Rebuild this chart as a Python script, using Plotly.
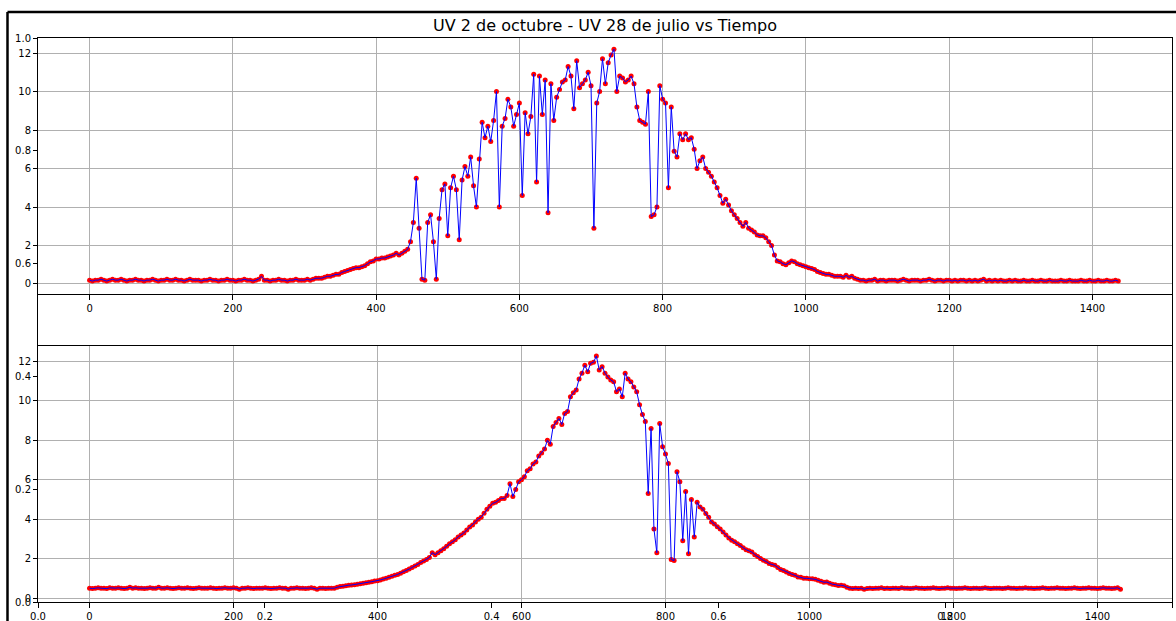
import plotly.graph_objects as go

# Readings sampled every 4 minutes over the day (minute of day)
minutos_octubre = list(range(0, 1440, 4))
minutos_julio = list(range(0, 1433, 4))

# UV index, 2 de octubre
uv_octubre = [
    0.2, 0.15, 0.2, 0.2, 0.25, 0.2, 0.15, 0.2, 0.25, 0.2,
    0.2, 0.25, 0.2, 0.15, 0.2, 0.2, 0.25, 0.2, 0.2, 0.15,
    0.2, 0.2, 0.25, 0.2, 0.15, 0.2, 0.2, 0.25, 0.2, 0.2,
    0.25, 0.2, 0.2, 0.15, 0.2, 0.25, 0.2, 0.2, 0.2, 0.15,
    0.2, 0.2, 0.25, 0.2, 0.2, 0.15, 0.2, 0.2, 0.25, 0.2,
    0.2, 0.15, 0.2, 0.2, 0.25, 0.2, 0.2, 0.15, 0.2, 0.25,
    0.4, 0.2, 0.2, 0.15, 0.2, 0.2, 0.25, 0.2, 0.2, 0.15,
    0.2, 0.2, 0.25, 0.2, 0.2, 0.2, 0.25, 0.2, 0.25, 0.3,
    0.3, 0.3, 0.35, 0.4, 0.4, 0.45, 0.5, 0.5, 0.6, 0.65,
    0.7, 0.75, 0.8, 0.85, 0.85, 0.9, 0.95, 1.05, 1.15, 1.2,
    1.3, 1.3, 1.35, 1.35, 1.4, 1.45, 1.5, 1.6, 1.5, 1.6,
    1.7, 1.8, 2.2, 3.2, 5.5, 2.9, 0.25, 0.2, 3.2, 3.6,
    2.2, 0.25, 3.4, 4.9, 5.2, 2.5, 5.0, 5.6, 4.9, 2.3,
    5.4, 6.1, 5.6, 6.6, 5.1, 4.0, 6.5, 8.4, 7.6, 8.2,
    7.4, 8.5, 10.0, 4.0, 8.2, 8.6, 9.6, 9.2, 8.2, 8.8,
    9.4, 4.6, 8.9, 7.8, 8.7, 10.9, 5.3, 10.8, 8.8, 10.6,
    3.7, 10.4, 8.5, 9.7, 10.1, 10.5, 10.6, 11.3, 10.8, 9.1,
    11.6, 10.2, 10.4, 10.6, 11.0, 10.3, 2.9, 9.4, 10.0, 11.7,
    10.4, 11.5, 11.9, 12.2, 10.0, 10.8, 10.7, 10.5, 10.6, 10.8,
    10.4, 9.2, 8.5, 8.4, 8.3, 10.0, 3.5, 3.6, 4.0, 10.3,
    9.6, 9.4, 5.0, 9.2, 6.9, 6.6, 7.8, 7.5, 7.8, 7.5,
    7.6, 7.0, 6.0, 6.4, 6.6, 6.0, 5.8, 5.6, 5.3, 5.0,
    4.6, 4.2, 4.4, 4.1, 3.8, 3.6, 3.4, 3.2, 3.0, 3.2,
    2.9, 2.8, 2.7, 2.55, 2.5, 2.5, 2.4, 2.2, 2.0, 1.5,
    1.2, 1.15, 1.05, 1.0, 1.1, 1.2, 1.15, 1.05, 1.0, 0.95,
    0.9, 0.85, 0.8, 0.75, 0.65, 0.6, 0.55, 0.5, 0.5, 0.45,
    0.4, 0.4, 0.4, 0.35, 0.45, 0.35, 0.4, 0.3, 0.25, 0.2,
    0.2, 0.15, 0.2, 0.2, 0.25, 0.15, 0.2, 0.2, 0.15, 0.2,
    0.2, 0.2, 0.15, 0.2, 0.25, 0.2, 0.15, 0.2, 0.2, 0.2,
    0.15, 0.2, 0.2, 0.25, 0.2, 0.15, 0.2, 0.2, 0.15, 0.2,
    0.2, 0.15, 0.2, 0.15, 0.2, 0.2, 0.15, 0.2, 0.15, 0.2,
    0.15, 0.2, 0.25, 0.15, 0.2, 0.15, 0.2, 0.15, 0.2, 0.15,
    0.15, 0.2, 0.15, 0.2, 0.15, 0.15, 0.2, 0.15, 0.15, 0.2,
    0.15, 0.15, 0.2, 0.15, 0.15, 0.2, 0.15, 0.15, 0.15, 0.2,
    0.15, 0.15, 0.2, 0.15, 0.15, 0.15, 0.2, 0.15, 0.15, 0.2,
    0.15, 0.15, 0.2, 0.15, 0.15, 0.2, 0.15, 0.15, 0.2, 0.15,
]

# UV index, 28 de julio
uv_julio = [
    0.5, 0.48, 0.5, 0.52, 0.5, 0.5, 0.48, 0.52, 0.5, 0.5,
    0.52, 0.5, 0.48, 0.5, 0.55, 0.5, 0.52, 0.5, 0.5, 0.48,
    0.5, 0.52, 0.5, 0.5, 0.55, 0.5, 0.5, 0.52, 0.5, 0.48,
    0.5, 0.52, 0.5, 0.5, 0.52, 0.5, 0.48, 0.5, 0.52, 0.5,
    0.5, 0.5, 0.52, 0.5, 0.48, 0.5, 0.5, 0.52, 0.5, 0.5,
    0.52, 0.5, 0.45, 0.5, 0.5, 0.52, 0.5, 0.48, 0.5, 0.5,
    0.5, 0.52, 0.5, 0.48, 0.5, 0.5, 0.52, 0.5, 0.5, 0.45,
    0.5, 0.5, 0.52, 0.5, 0.5, 0.48, 0.5, 0.52, 0.5, 0.45,
    0.5, 0.5, 0.48, 0.5, 0.5, 0.5, 0.55, 0.58, 0.6, 0.62,
    0.65, 0.66, 0.68, 0.7, 0.72, 0.75, 0.78, 0.8, 0.83, 0.86,
    0.88, 0.92, 0.96, 1.0, 1.05, 1.1, 1.15, 1.2, 1.26, 1.33,
    1.4, 1.47, 1.55, 1.62, 1.7, 1.8, 1.88, 1.96, 2.05, 2.3,
    2.2, 2.3, 2.4, 2.5, 2.62, 2.75, 2.85, 2.95, 3.1, 3.2,
    3.3, 3.45, 3.6, 3.7, 3.85, 4.0, 4.1, 4.3, 4.5, 4.65,
    4.8, 4.85, 4.95, 5.05, 5.05, 5.2, 5.8, 5.15, 5.5, 5.9,
    6.0, 6.15, 6.45, 6.55, 6.8, 6.9, 7.2, 7.35, 7.55, 8.0,
    7.8, 8.7, 8.9, 9.1, 8.8, 9.36, 9.45, 10.2, 10.4, 10.55,
    11.1, 11.4, 11.8, 11.47, 11.9, 11.95, 12.27, 11.56, 11.73, 11.4,
    11.2, 11.05, 10.96, 10.46, 10.6, 10.2, 11.4, 11.1, 10.96, 10.7,
    10.46, 9.8, 9.3, 8.95, 5.3, 8.6, 3.5, 2.3, 8.85, 7.67,
    7.3, 6.82, 1.95, 1.9, 6.4, 5.9, 2.9, 5.4, 2.25, 5.0,
    3.1, 4.85, 4.62, 4.5, 4.28, 4.1, 3.86, 3.75, 3.62, 3.5,
    3.35, 3.2, 3.05, 2.93, 2.85, 2.75, 2.67, 2.55, 2.45, 2.4,
    2.33, 2.2, 2.1, 2.0, 1.91, 1.85, 1.75, 1.7, 1.66, 1.55,
    1.45, 1.4, 1.32, 1.25, 1.2, 1.15, 1.07, 1.05, 1.0, 1.0,
    0.98, 0.98, 0.95, 0.9, 0.85, 0.8, 0.81, 0.75, 0.7, 0.68,
    0.64, 0.65, 0.62, 0.55, 0.5, 0.48, 0.5, 0.48, 0.5, 0.45,
    0.48, 0.5, 0.48, 0.5, 0.5, 0.52, 0.48, 0.5, 0.48, 0.5,
    0.5, 0.48, 0.52, 0.5, 0.5, 0.48, 0.5, 0.52, 0.5, 0.5,
    0.48, 0.5, 0.5, 0.52, 0.5, 0.48, 0.5, 0.5, 0.52, 0.5,
    0.5, 0.48, 0.5, 0.5, 0.52, 0.5, 0.48, 0.5, 0.5, 0.48,
    0.5, 0.52, 0.5, 0.48, 0.5, 0.5, 0.5, 0.48, 0.5, 0.52,
    0.5, 0.5, 0.48, 0.5, 0.5, 0.52, 0.5, 0.5, 0.48, 0.5,
    0.5, 0.52, 0.5, 0.48, 0.5, 0.5, 0.52, 0.5, 0.5, 0.48,
    0.5, 0.5, 0.52, 0.5, 0.48, 0.5, 0.5, 0.52, 0.5, 0.5,
    0.48, 0.5, 0.52, 0.5, 0.5, 0.48, 0.5, 0.52, 0.45,
]

ticks_minutos = [0, 200, 400, 600, 800, 1000, 1200, 1400]
ticks_uv = [0, 2, 4, 6, 8, 10, 12]
ticks_marco = [0.0, 0.2, 0.4, 0.6, 0.8, 1.0]
etiquetas_marco = ["0.0", "0.2", "0.4", "0.6", "0.8", "1.0"]

FONT = "DejaVu Sans"
GRID = "#b0b0b0"

fig = go.Figure()

# empty trace so the enclosing 0-1 frame axes are drawn (first, underneath)
fig.add_trace(go.Scatter(x=[], y=[], xaxis="x3", yaxis="y3", showlegend=False))

for xa, ya, xs, ys in (("x", "y", minutos_octubre, uv_octubre),
                       ("x2", "y2", minutos_julio, uv_julio)):
    fig.add_trace(go.Scatter(x=xs, y=ys, mode="markers", xaxis=xa, yaxis=ya,
                             marker=dict(color="red", size=5, line=dict(width=0)),
                             showlegend=False, hoverinfo="skip"))
    fig.add_trace(go.Scatter(x=xs, y=ys, mode="lines", xaxis=xa, yaxis=ya,
                             line=dict(color="blue", width=1),
                             showlegend=False))

tickfont = dict(family=FONT, size=10, color="black")


def data_axis(**kw):
    base = dict(showgrid=True, gridcolor=GRID, gridwidth=0.8, zeroline=False,
                showline=True, linecolor="black", linewidth=1, mirror=True,
                ticks="outside", ticklen=4, tickwidth=1, tickcolor="black",
                tickfont=tickfont, automargin=False)
    base.update(kw)
    return base


frame_axis = dict(range=[0, 1], tickmode="array", tickvals=ticks_marco,
                  ticktext=etiquetas_marco, showgrid=False, zeroline=False,
                  showline=True, linecolor="black", linewidth=1, mirror=True,
                  ticks="outside", tickcolor="black", tickfont=tickfont,
                  automargin=False)

fig.update_layout(
    width=1176, height=621,
    margin=dict(l=38, r=4, t=38, b=19, pad=0, autoexpand=False),
    paper_bgcolor="white", plot_bgcolor="rgba(0,0,0,0)",
    font=dict(family=FONT, color="black"),
    title=dict(text="UV 2 de octubre - UV 28 de julio vs Tiempo",
               x=0.5, xref="paper", xanchor="center",
               y=1 - 25 / 621, yref="container", yanchor="middle",
               font=dict(family=FONT, size=16, color="black")),
    xaxis3=dict(domain=[0, 1], anchor="y3", ticklen=5, **frame_axis),
    yaxis3=dict(domain=[0, 1], anchor="x3", ticklen=4, **frame_axis),
    xaxis=data_axis(domain=[0, 1], anchor="y", range=[-72, 1511],
                    tickmode="array", tickvals=ticks_minutos, ticklen=5),
    yaxis=data_axis(domain=[0.5461, 1], anchor="x", range=[-0.52, 12.78],
                    tickmode="array", tickvals=ticks_uv),
    xaxis2=data_axis(domain=[0, 1], anchor="y2", range=[-71.6, 1503.6],
                     tickmode="array", tickvals=ticks_minutos, ticklen=5),
    yaxis2=data_axis(domain=[0, 0.4544], anchor="x2", range=[-0.2, 12.79],
                     tickmode="array", tickvals=ticks_uv),
    shapes=[
        dict(type="line", xref="paper", yref="paper", x0=-0.0269, x1=1.2,
             y0=1.0461, y1=1.0461, line=dict(color="black", width=2.5)),
        dict(type="line", xref="paper", yref="paper", x0=-0.0269, x1=-0.0269,
             y0=1.0461, y1=-0.2, line=dict(color="black", width=2.5)),
    ],
)

fig.write_html("out.html")
